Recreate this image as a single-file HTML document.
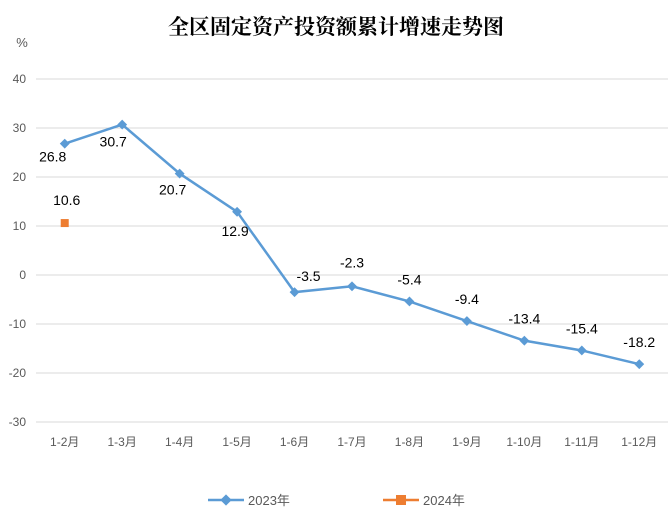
<!DOCTYPE html>
<html><head><meta charset="utf-8"><style>
body{margin:0;background:#fff;}
svg{display:block;font-family:"Liberation Sans","Noto Sans CJK SC",sans-serif;}
</style></head><body>
<svg id="c" width="672" height="528" viewBox="0 0 672 528">
<text x="336" y="34" text-anchor="middle" font-size="21" font-weight="bold" fill="#000" font-family="'Noto Serif CJK SC','Noto Sans CJK SC',serif">全区固定资产投资额累计增速走势图</text>
<text x="22" y="47" text-anchor="middle" font-size="13" fill="#595959">%</text>
<g id="grid"></g><g id="xl"></g><g id="s1"></g><g id="s2"></g>
<g>
<g>
<line x1="208" y1="500" x2="244" y2="500" stroke="#5b9bd5" stroke-width="2.5"/>
<rect x="222" y="496" width="8" height="8" fill="#5b9bd5" transform="rotate(45 226 500)"/>
<text x="248" y="505" font-size="13" fill="#595959">2023年</text></g>
<g>
<line x1="383" y1="500" x2="419" y2="500" stroke="#ed7d31" stroke-width="2.5"/>
<rect x="396" y="495" width="10" height="10" fill="#ed7d31"/>
<text x="423" y="505" font-size="13" fill="#595959">2024年</text></g>
</g>
</svg>
<script>
const categories=["1-2月","1-3月","1-4月","1-5月","1-6月","1-7月","1-8月","1-9月","1-10月","1-11月","1-12月"];
const series2023=[26.8,30.7,20.7,12.9,-3.5,-2.3,-5.4,-9.4,-13.4,-15.4,-18.2];
const series2024=[10.6];
const yTicks=[40,30,20,10,0,-10,-20,-30];
const labelOffsets=[[-12,18],[-9,22],[-7,21],[-2,24],[14,-11],[0,-19],[0,-17],[0,-17],[0,-17],[0,-17],[0,-17]];
const NS="http://www.w3.org/2000/svg";
const x0=36,x1=668,y=v=>275-v*4.9;
const step=(x1-x0)/categories.length;
const x=i=>x0+step*(i+0.5);
function mk(t,a,p){const e=document.createElementNS(NS,t);for(const k in a)e.setAttribute(k,a[k]);p.appendChild(e);return e;}
const grid=document.getElementById('grid');
yTicks.forEach(t=>{
 const l=mk('line',{x1:x0,x2:x1,y1:y(t),y2:y(t),stroke:'#d9d9d9','stroke-width':1},grid);
 
 
 const tx=mk('text',{x:26,y:y(t)+4,'text-anchor':'end','font-size':12,fill:'#595959'},grid);
 tx.textContent=t;
 
 
});
const xl=document.getElementById('xl');
categories.forEach((c,i)=>{
 const t=mk('text',{x:x(i),y:446,'text-anchor':'middle','font-size':12,fill:'#595959'},xl);
 t.textContent=c;
 
 
});
const s1=document.getElementById('s1');
const pl=mk('polyline',{points:series2023.map((v,i)=>x(i)+','+y(v)).join(' '),fill:'none',stroke:'#5b9bd5','stroke-width':2.5},s1);


series2023.forEach((v,i)=>{
 const r=mk('rect',{x:x(i)-3.5,y:y(v)-3.5,width:7,height:7,fill:'#5b9bd5',transform:`rotate(45 ${x(i)} ${y(v)})`},s1);
 
 
 const o=labelOffsets[i];
 const t=mk('text',{x:x(i)+o[0],y:y(v)+o[1],'text-anchor':'middle','font-size':14,fill:'#000'},s1);
 t.textContent=v;
 
 
});
const s2=document.getElementById('s2');
series2024.forEach((v,i)=>{
 const r=mk('rect',{x:x(i)-4,y:y(v)-4,width:8,height:8,fill:'#ed7d31'},s2);
 
 
 const t=mk('text',{x:x(i)+2,y:y(v)-18,'text-anchor':'middle','font-size':14,fill:'#000'},s2);
 t.textContent=v;
 
 
});
</script>
</body></html>
